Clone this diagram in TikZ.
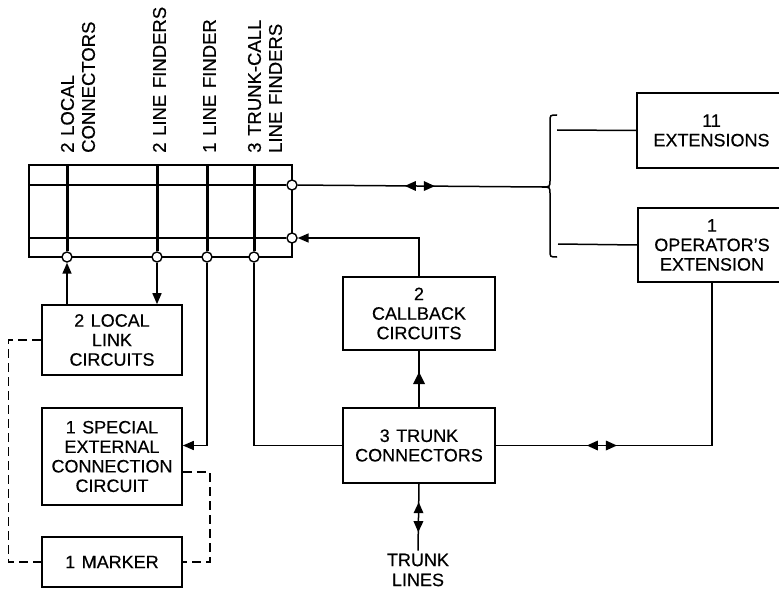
\documentclass[tikz,border=0pt]{standalone}
\usepackage{fontspec}
\setmainfont{Liberation Sans}[FakeBold=0.4, WordSpace=1.3]
\usetikzlibrary{arrows.meta,decorations.markings}
\tikzset{
  unit/.style={draw, line width=1.6pt, inner sep=0pt, align=center, font=\fontsize{18}{19.5}\selectfont},
  lbl/.style={rotate=90, anchor=west, inner sep=0pt, align=left, font=\fontsize{18.5}{21}\selectfont},
  jack/.style={circle, draw, fill=white, line width=1.4pt, minimum size=10pt, inner sep=0pt},
  wire/.style={line width=1.5pt},
  ctrl/.style={line width=1.4pt, dash pattern=on 9pt off 5pt},
  twoway/.style={postaction=decorate, decoration={markings, mark=at position #1 with {
      \fill (-4pt,5pt) -- (-15pt,0pt) -- (-4pt,-5pt) -- cycle;
      \fill (4pt,5pt) -- (15pt,0pt) -- (4pt,-5pt) -- cycle;}}},
  upway/.style={postaction=decorate, decoration={markings, mark=at position 0.5 with {
      \fill (7pt,0pt) -- (-5pt,6pt) -- (-5pt,-6pt) -- cycle;}}},
  >={Triangle[length=11pt,width=9pt]}
}
\begin{document}
\begin{tikzpicture}[x=1pt,y=-1pt]
\useasboundingbox (0,0) rectangle (779,591);
% crossbar switch
\node[draw, line width=1.6pt, minimum width=263pt, minimum height=92pt] (xbar) at (160.5,211) {};
\node[jack] (r1) at (292,185) {};
\node[jack] (r2) at (292,238) {};
\node[jack] (c1) at (67,257) {};
\node[jack] (c2) at (157,257) {};
\node[jack] (c3) at (207,257) {};
\node[jack] (c4) at (254,257) {};
\draw[line width=1.8pt] (xbar.west |- r1) -- (r1);
\draw[line width=1.8pt] (xbar.west |- r2) -- (r2);
\foreach \c in {c1,c2,c3,c4}
  \draw[line width=3pt] (xbar.north -| \c) -- (\c);

% column labels
\node[lbl] (lconn) at (78,153) {2 LOCAL\\CONNECTORS};
\node[lbl] (lfind) at (159.5,153) {2 LINE FINDERS};
\node[lbl] (lone) at (209.5,153) {1 LINE FINDER};
\node[lbl] (ltrunk) at (265,153) {3 TRUNK-CALL\\LINE FINDERS};

% circuits
\node[unit, minimum width=140pt, minimum height=70pt] (link) at (112,340) {2 LOCAL\\LINK\\CIRCUITS};
\node[unit, minimum width=140pt, minimum height=97pt] (special) at (112,456.5) {1 SPECIAL\\EXTERNAL\\CONNECTION\\CIRCUIT};
\node[unit, minimum width=140pt, minimum height=50pt] (marker) at (112,562) {1 MARKER};
\node[unit, minimum width=152pt, minimum height=73pt] (callback) at (419,313.5) {2\\CALLBACK\\CIRCUITS};
\node[unit, minimum width=152pt, minimum height=75pt] (trunk) at (419,445.5) {3 TRUNK\\CONNECTORS};
\node[unit, minimum width=149pt, minimum height=75pt] (ext) at (711.5,130.5) {11\\EXTENSIONS};
\node[unit, minimum width=148pt, minimum height=74pt] (opext) at (712,245) {1\\OPERATOR'S\\EXTENSION};
\node[align=center, inner sep=3pt, font=\fontsize{18}{20}\selectfont] (tlines) at (418,570) {TRUNK\\LINES};

% brace to the extensions
\coordinate (btip) at (542,187);
\coordinate (btop) at (557,130);
\coordinate (bbot) at (558,244);
\draw[wire] (557,115) .. controls (550,115) .. (550,122) -- (550,180)
  .. controls (550,187) .. (btip) .. controls (550,187) .. (550,194) -- (550,250)
  .. controls (550,257) .. (557,257);

% connections
\draw[wire, twoway=0.5] (r1) -- (btip);
\draw[wire] (btop) -- (ext.west);
\draw[wire] (bbot) -- (opext.west);
\draw[wire, ->] (callback.north) |- (r2);
\draw[wire, ->] (link.north -| c1) -- (c1);
\draw[wire, ->] (c2) -- (link.north -| c2);
\draw[wire, ->] (c3) |- (special.east |- trunk.west);
\draw[wire] (c4) |- (trunk.west);
\draw[wire, upway] (trunk.north) -- (callback.south);
\draw[wire, twoway=0.28] (trunk.east) -| (opext.south);
\draw[wire, twoway=0.5] (trunk.south) -- (tlines.north);
\draw[ctrl] (link.west) -- ++(-33,0) |- (marker.west);
\draw[ctrl] ([yshift=-15.5pt]special.east) -- ++(27,0) |- (marker.east);
\end{tikzpicture}
\end{document}
